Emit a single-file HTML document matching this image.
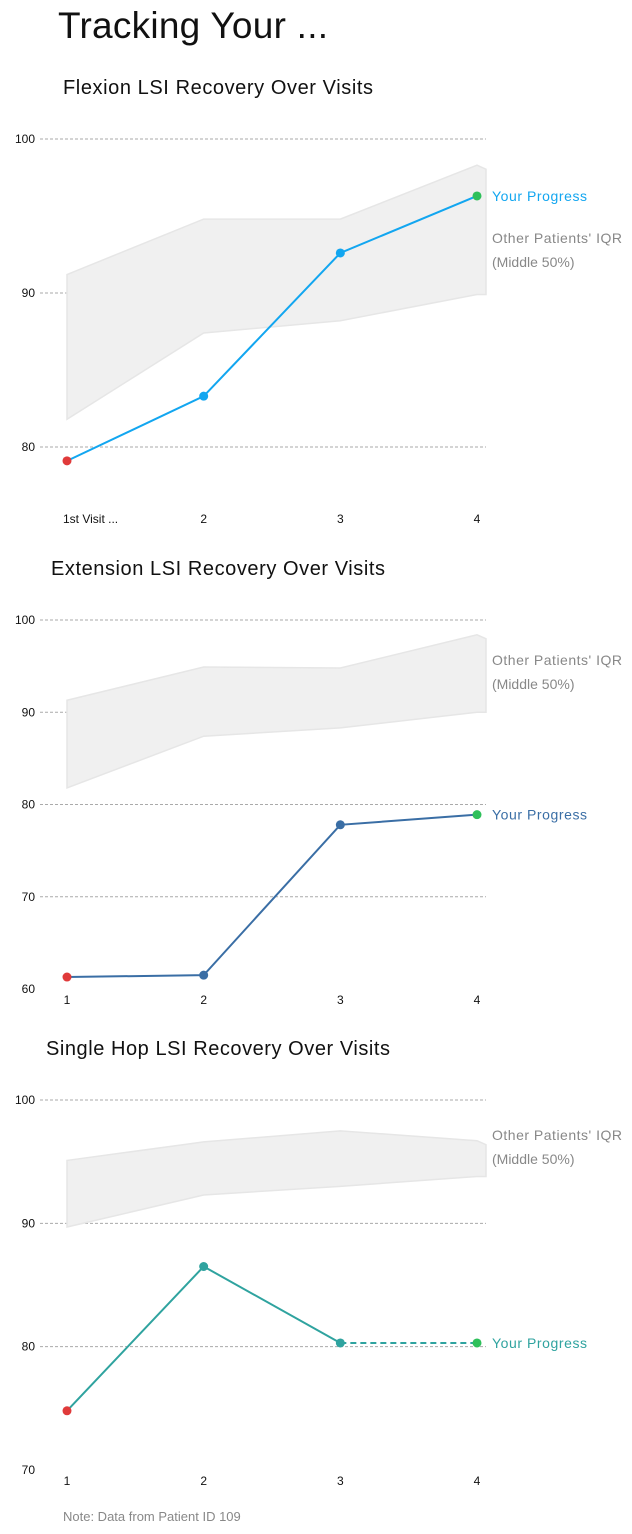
<!DOCTYPE html>
<html><head><meta charset="utf-8"><style>
body{margin:0;background:#fff;width:632px;height:1534px;overflow:hidden;font-family:"Liberation Sans",sans-serif}
svg{position:absolute;left:0;top:0}
</style></head><body>
<svg id="s" width="632" height="1534">
<text x="58" y="38" font-size="37" fill="#111" textLength="270">Tracking Your ...</text>
<text x="63" y="1521" font-size="13" fill="#888">Note: Data from Patient ID 109</text>
</svg>
<script>
const visits=[1,2,3,4];
const flexUpper=[91.2,94.8,94.8,98.3];
const flexLower=[81.8,87.4,88.2,89.9];
const flexYou=[79.1,83.3,92.6,96.3];
const extUpper=[91.3,94.9,94.8,98.4];
const extLower=[81.8,87.4,88.3,90.0];
const extYou=[61.3,61.5,77.8,78.9];
const hopUpper=[95.1,96.6,97.5,96.7];
const hopLower=[89.7,92.3,93.0,93.8];
const hopYou=[74.8,86.5,80.3,80.3];
const flexTicks=[80,90,100];
const extTicks=[60,70,80,90,100];
const hopTicks=[70,80,90,100];

const NS="http://www.w3.org/2000/svg";
const svg=document.getElementById('s');
function mk(tag,attrs,parent){const e=document.createElementNS(NS,tag);for(const k in attrs)e.setAttribute(k,attrs[k]);(parent||svg).appendChild(e);return e;}

function chart(cfg){
  const g=mk('g',{});
  
  
  const x=v=>67+(v-1)*(477-67)/3;
  const y=v=>cfg.y0+(cfg.max-v)*(cfg.y1-cfg.y0)/(cfg.max-cfg.min);
  const t=mk('text',{x:cfg.tx,y:cfg.ty,'font-size':20,fill:'#111',textLength:cfg.tl},g);t.textContent=cfg.title;
  
  
  cfg.ticks.forEach(v=>{
    if(v!==cfg.min){const l=mk('line',{x1:40,x2:486,y1:y(v),y2:y(v),stroke:'#aaa','stroke-dasharray':'3,2','stroke-width':1},g);
    
    }
    const tx=mk('text',{x:35,y:y(v)+4,'font-size':12,fill:'#111','text-anchor':'end'},g);tx.textContent=v;
    
    
  });
  let pts=cfg.upper.map((v,i)=>x(visits[i])+','+y(v));
  const n=visits.length-1;
  pts.push((x(visits[n])+9)+','+(y(cfg.upper[n])+4));
  pts.push((x(visits[n])+9)+','+y(cfg.lower[n]));
  for(let i=n;i>=0;i--)pts.push(x(visits[i])+','+y(cfg.lower[i]));
  const b=mk('polygon',{points:pts.join(' '),fill:'#f0f0f0',stroke:'#e6e6e6','stroke-width':1.5},g);
  
  
  const solidN=cfg.dashLast?n-1:n;
  let d='';for(let i=0;i<=solidN;i++)d+=(i?'L':'M')+x(visits[i])+','+y(cfg.you[i]);
  const p=mk('path',{d:d,fill:'none',stroke:cfg.color,'stroke-width':2},g);
  
  
  if(cfg.dashLast){const dl=mk('line',{x1:x(visits[n-1]),y1:y(cfg.you[n-1]),x2:x(visits[n]),y2:y(cfg.you[n]),stroke:cfg.color,'stroke-width':2,'stroke-dasharray':'6,4'},g);
    
    }
  cfg.you.forEach((v,i)=>{
    const c=i===0?'#e03a3a':(i===n?'#2ec05a':cfg.color);
    const pt=mk('circle',{cx:x(visits[i]),cy:y(v),r:4.5,fill:c},g);
    
    
  });
  visits.forEach((v,i)=>{
    const lt=mk('text',{x:x(v),y:cfg.xl,'font-size':12,fill:'#111','text-anchor':'middle'},g);
    lt.textContent=v;
    if(i===0&&cfg.first){lt.setAttribute('text-anchor','start');lt.setAttribute('x',x(v)-4);lt.textContent='1st Visit ...';}
    
    
  });
  const yl=mk('text',{x:492,y:y(cfg.you[n])+5,'font-size':14,fill:cfg.color,textLength:95},g);yl.textContent='Your Progress';
  
  
  const o1=mk('text',{x:492,y:cfg.iqrY,'font-size':14,fill:'#888',textLength:130},g);o1.textContent="Other Patients' IQR";
  
  
  const o2=mk('text',{x:492,y:cfg.iqrY+24,'font-size':14,fill:'#888'},g);o2.textContent="(Middle 50%)";
  
  
}
chart({name:'flexion-chart',title:'Flexion LSI Recovery Over Visits',tx:63,ty:94,tl:310,min:70,max:100,y0:139,y1:139+30*15.4,ticks:flexTicks,upper:flexUpper,lower:flexLower,you:flexYou,color:'#12a6f0',xl:523,first:true,iqrY:243});
chart({name:'extension-chart',title:'Extension LSI Recovery Over Visits',tx:51,ty:575,tl:334,min:60,max:100,y0:620,y1:989,ticks:extTicks,upper:extUpper,lower:extLower,you:extYou,color:'#3a6ea5',xl:1004,iqrY:665});
chart({name:'single-hop-chart',title:'Single Hop LSI Recovery Over Visits',tx:46,ty:1055,tl:344,min:70,max:100,y0:1100,y1:1470,ticks:hopTicks,upper:hopUpper,lower:hopLower,you:hopYou,color:'#2fa39f',xl:1485,dashLast:true,iqrY:1140});
</script>
</body></html>
